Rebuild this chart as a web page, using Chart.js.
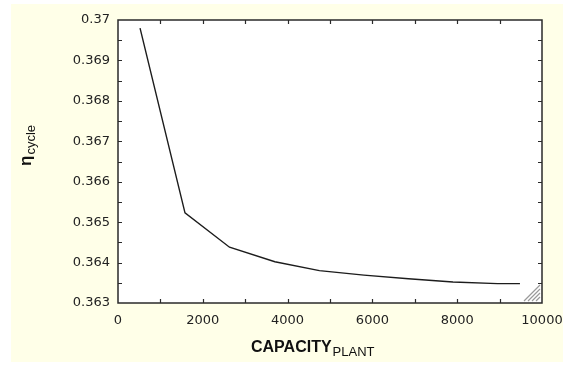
<!DOCTYPE html>
<html>
<head>
<meta charset="utf-8">
<script src="https://cdn.jsdelivr.net/npm/chart.js@4/dist/chart.umd.min.js"></script>
<style>
  html, body { margin: 0; padding: 0; background: #ffffff; }
  #wrap { position: relative; width: 563px; height: 369px; }
</style>
</head>
<body>
<div id="wrap"><canvas id="c"></canvas></div>
<script>
// ---- data ----
const capacityPlant = [520, 1580, 2630, 3700, 4750, 5800, 6850, 7900, 8950, 9480];
const etaCycle = [0.36980, 0.36523, 0.36438, 0.36402, 0.36380, 0.36369, 0.36360, 0.36352, 0.36348, 0.36348];
const xTickStep = 2000;
const yTickStep = 0.001;
const xRange = [0, 10000];
const yRange = [0.363, 0.370];
const xTitleMain = 'CAPACITY';
const xTitleSub = 'PLANT';
const yTitleMain = 'η';
const yTitleSub = 'cycle';

const points = capacityPlant.map((x, i) => ({ x: x, y: etaCycle[i] }));

const frame = {
  id: 'frame',
  beforeDraw(chart) {
    const ctx = chart.ctx;
    ctx.save();
    ctx.fillStyle = '#ffffff';
    ctx.fillRect(0, 0, chart.width, chart.height);
    ctx.fillStyle = '#ffffe8';
    ctx.fillRect(11, 4, chart.width - 11, 358);
    const a = chart.chartArea;
    ctx.fillStyle = '#ffffff';
    ctx.fillRect(a.left, a.top, a.right - a.left, a.bottom - a.top);
    ctx.restore();
  },
  afterDraw(chart) {
    const ctx = chart.ctx;
    const a = chart.chartArea;
    const xs = chart.scales.x, ys = chart.scales.y;
    ctx.save();
    ctx.strokeStyle = '#2a2a2a';
    ctx.lineWidth = 1.5;
    ctx.strokeRect(a.left, a.top, a.right - a.left, a.bottom - a.top);
    // inward ticks (major and minor) on all four sides
    ctx.lineWidth = 1.2;
    ctx.beginPath();
    for (let v = xRange[0] + xTickStep / 2; v < xRange[1]; v += xTickStep / 2) {
      const px = Math.round(xs.getPixelForValue(v)) + 0.5;
      ctx.moveTo(px, a.bottom); ctx.lineTo(px, a.bottom - 4);
      ctx.moveTo(px, a.top); ctx.lineTo(px, a.top + 4);
    }
    for (let k = 1; k < 14; k++) {
      const v = yRange[0] + k * yTickStep / 2;
      const py = Math.round(ys.getPixelForValue(v)) + 0.5;
      ctx.moveTo(a.left, py); ctx.lineTo(a.left + 4, py);
      ctx.moveTo(a.right, py); ctx.lineTo(a.right - 4, py);
    }
    ctx.stroke();
    // resize grip in the corner
    ctx.strokeStyle = '#9a9a9a';
    ctx.lineWidth = 1.2;
    ctx.beginPath();
    for (let i = 0; i < 4; i++) {
      const d = 4 + i * 4;
      ctx.moveTo(a.right - 2 - d, a.bottom - 2);
      ctx.lineTo(a.right - 2, a.bottom - 2 - d);
    }
    ctx.stroke();
    // axis titles with subscripts
    ctx.fillStyle = '#111111';
    ctx.textBaseline = 'alphabetic';
    ctx.textAlign = 'left';
    ctx.font = 'bold 16px "Liberation Sans", Arial, sans-serif';
    ctx.fillText(xTitleMain, 251, 352);
    const w = ctx.measureText(xTitleMain).width;
    ctx.font = '13px "Liberation Sans", Arial, sans-serif';
    ctx.fillText(xTitleSub, 251 + w + 1, 356);
    // y title rotated
    ctx.translate(31, 166);
    ctx.rotate(-Math.PI / 2);
    ctx.font = 'bold 17px "Liberation Sans", Arial, sans-serif';
    ctx.fillText(yTitleMain, 0, 0);
    const w2 = ctx.measureText(yTitleMain).width;
    ctx.font = '13px "Liberation Sans", Arial, sans-serif';
    ctx.fillText(yTitleSub, w2 + 1, 4);
    ctx.restore();
  }
};

new Chart(document.getElementById('c'), {
  type: 'line',
  data: {
    datasets: [{
      data: points,
      borderColor: '#1c1c1c',
      borderWidth: 1.4,
      pointRadius: 0,
      tension: 0,
      fill: false
    }]
  },
  options: {
    responsive: true,
    maintainAspectRatio: false,
    animation: false,
    events: [],
    layout: { padding: { left: 0, top: 20, right: 21, bottom: 0 } },
    plugins: { legend: { display: false }, tooltip: { enabled: false }, title: { display: false } },
    scales: {
      x: {
        type: 'linear',
        min: xRange[0], max: xRange[1],
        afterFit(s) { s.height = 66; s.paddingLeft = 0; s.paddingRight = 0; },
        grid: { display: false, drawTicks: false },
        border: { display: false },
        ticks: {
          stepSize: xTickStep,
          maxRotation: 0,
          padding: 10,
          color: '#222222',
          font: { family: '"DejaVu Sans", sans-serif', size: 13 },
          callback: (v) => String(v)
        }
      },
      y: {
        type: 'linear',
        min: yRange[0], max: yRange[1],
        afterFit(s) { s.width = 118; s.paddingTop = 0; s.paddingBottom = 0; },
        grid: { display: false, drawTicks: false },
        border: { display: false },
        ticks: {
          stepSize: yTickStep,
          padding: 8,
          color: '#222222',
          font: { family: '"DejaVu Sans", sans-serif', size: 13 },
          callback: (v) => String(parseFloat(Number(v).toFixed(4)))
        }
      }
    }
  },
  plugins: [frame]
});
</script>
</body>
</html>
